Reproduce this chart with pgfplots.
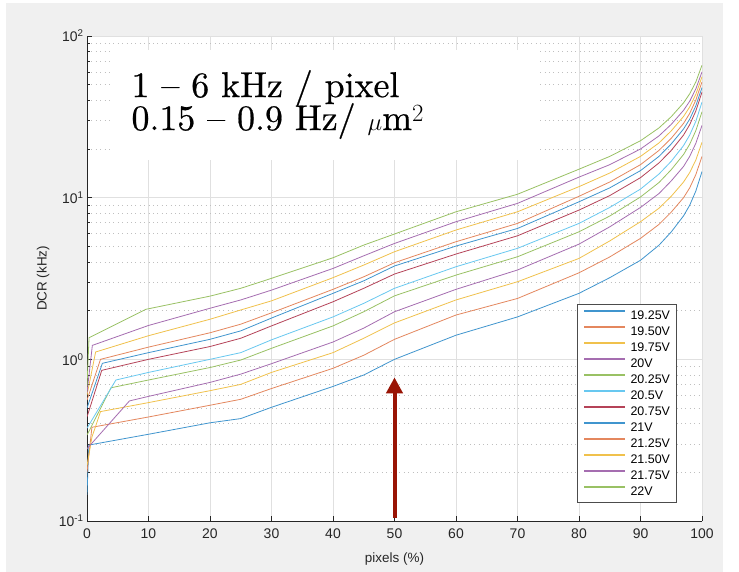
\documentclass[border=0pt]{standalone}
\usepackage{fontspec}
\usepackage{pgfplots}
\pgfplotsset{compat=1.18}
\usetikzlibrary{arrows.meta}
\newfontfamily\hv{Liberation Sans}
\newfontfamily\cmten{lmroman10-regular}[Extension=.otf, Ligatures=TeX, FakeBold=0.6]
\definecolor{mblue}{rgb}{0,0.447,0.741}
\definecolor{morange}{rgb}{0.85,0.325,0.098}
\definecolor{myellow}{rgb}{0.929,0.694,0.125}
\definecolor{mpurple}{rgb}{0.494,0.184,0.556}
\definecolor{mgreen}{rgb}{0.466,0.674,0.188}
\definecolor{mcyan}{rgb}{0.301,0.745,0.933}
\definecolor{mred}{rgb}{0.635,0.078,0.184}
\colorlet{cblue}{mblue!75!white}
\colorlet{corange}{morange!70!white}
\colorlet{cyellow}{myellow!80!white}
\colorlet{cpurple}{mpurple!70!white}
\colorlet{cgreen}{mgreen!75!white}
\colorlet{ccyan}{mcyan!85!white}
\colorlet{cred}{mred!80!white}
\definecolor{bggray}{HTML}{F0F0F0}
\definecolor{arrowred}{rgb}{0.6,0.08,0.02}
\begin{document}
\begin{tikzpicture}
\useasboundingbox (0,0) rectangle (739bp,572bp);
\fill[white] (0,0) rectangle (739bp,572bp);
\fill[bggray] (6bp,0) rectangle (723bp,569bp);
\begin{axis}[
  at={(87bp,51bp)}, anchor=south west,
  scale only axis, width=615bp, height=485bp,
  xmin=0, xmax=100, ymode=log, ymin=0.1, ymax=100,
  axis background/.style={fill=white},
  xtick={0,10,...,100},
  ytick={0.1,1,10,100},
  yticklabels={10\textsuperscript{-1},10\textsuperscript{0},10\textsuperscript{1},10\textsuperscript{2}},
  minor ytick={0.2,0.3,0.4,0.5,0.6,0.7,0.8,0.9,2,3,4,5,6,7,8,9,20,30,40,50,60,70,80,90},
  /pgf/number format/assume math mode=true,
  axis x line*=bottom, axis y line*=left,
  axis line style={-, draw=black!85, line width=0.8bp},
  tick align=inside,
  tick style={draw=black!85, line width=0.6bp},
  major tick length=5bp, minor tick length=3bp,
  xmajorgrids, ymajorgrids, yminorgrids,
  major grid style={draw=black!12, line width=0.8bp},
  minor grid style={draw=black!25, line width=0.6bp, dash pattern=on 0.8bp off 3.6bp},
  ticklabel style={font=\hv\fontsize{14}{16}\selectfont, text=black!85},
  xticklabel style={yshift=-4bp},
  label style={font=\hv\fontsize{13.5}{15}\selectfont, text=black!85},
  xlabel={pixels (\%)}, ylabel={DCR (kHz)},
  xlabel style={at={(axis description cs:0.5,-0.078)}, anchor=center},
  ylabel style={at={(axis description cs:-0.0715,0.5)}, anchor=center},
  legend style={at={(0.957724,0.447423)}, anchor=north east, draw=black!70, line width=0.8bp,
    fill=white, font=\hv\fontsize{12.5}{14}\selectfont, outer sep=0pt, inner xsep=6bp, inner ysep=3bp,
    nodes={inner sep=0pt, text height=12.5bp, text depth=3.5bp}, row sep=0pt},
  legend cell align=left,
  legend image code/.code={\draw[#1, line width=1.2bp] (0bp,4bp) -- (41bp,4bp); \path (46bp,0bp);},
  every axis plot/.append style={line width=0.8bp},
]
\fill[white] (axis cs:3.7,17.1) rectangle (axis cs:73.2,81.8);
\addplot[cblue] coordinates {(0,0.145) (0.3,0.295) (10,0.344) (20,0.405) (25,0.43) (30,0.505) (40,0.68) (45,0.80) (50,1.0) (60,1.41) (70,1.83) (80,2.56) (85,3.2) (90,4.1) (93,5.08) (95,6.14) (97,7.72) (98,8.98) (99,11.0) (100,14.5)};
\addlegendentry{19.25V}
\addplot[corange] coordinates {(0,0.20) (0.8,0.38) (10,0.44) (20,0.52) (25,0.566) (30,0.66) (40,0.88) (45,1.06) (50,1.33) (60,1.88) (70,2.38) (80,3.43) (85,4.3) (90,5.6) (93,6.83) (95,8.14) (97,10.0) (98,11.5) (99,13.9) (100,18)};
\addlegendentry{19.50V}
\addplot[cyellow] coordinates {(0,0.22) (0.8,0.33) (2.2,0.475) (10,0.54) (20,0.64) (25,0.70) (30,0.83) (40,1.10) (45,1.35) (50,1.68) (60,2.33) (70,3.02) (80,4.21) (85,5.4) (90,7.1) (93,8.6) (95,10.2) (97,12.5) (98,14.3) (99,17.1) (100,22)};
\addlegendentry{19.75V}
\addplot[cpurple] coordinates {(0,0.28) (6.9,0.553) (10,0.59) (20,0.72) (25,0.81) (30,0.94) (40,1.28) (45,1.56) (50,1.97) (60,2.71) (70,3.57) (80,5.16) (85,6.6) (90,8.7) (93,10.6) (95,12.7) (97,15.6) (98,18.0) (99,21.7) (100,28)};
\addlegendentry{20V}
\addplot[cgreen] coordinates {(0,0.34) (3.9,0.667) (10,0.745) (20,0.89) (25,0.99) (30,1.17) (40,1.61) (45,1.97) (50,2.47) (60,3.32) (70,4.31) (80,6.15) (85,7.7) (90,10.1) (93,12.4) (95,14.9) (97,18.5) (98,21.4) (99,26.0) (100,34)};
\addlegendentry{20.25V}
\addplot[ccyan] coordinates {(0,0.375) (4.7,0.745) (10,0.83) (20,1.0) (25,1.10) (30,1.32) (40,1.83) (45,2.22) (50,2.75) (60,3.74) (70,4.86) (80,6.93) (85,8.7) (90,11.3) (93,14.0) (95,16.8) (97,21.0) (98,24.4) (99,29.7) (100,39)};
\addlegendentry{20.5V}
\addplot[cred] coordinates {(0,0.44) (2.4,0.855) (10,1.0) (20,1.20) (25,1.35) (30,1.61) (40,2.27) (45,2.75) (50,3.37) (60,4.48) (70,5.81) (80,8.38) (85,10.3) (90,13.3) (93,16.4) (95,19.6) (97,24.4) (98,28.3) (99,34.4) (100,45)};
\addlegendentry{20.75V}
\addplot[cblue] coordinates {(0,0.50) (2.5,0.945) (10,1.10) (20,1.33) (25,1.50) (30,1.80) (40,2.56) (45,3.06) (50,3.78) (60,5.02) (70,6.45) (80,9.43) (85,11.5) (90,14.7) (93,18.0) (95,21.5) (97,26.6) (98,30.6) (99,37.0) (100,48)};
\addlegendentry{21V}
\addplot[corange] coordinates {(0,0.56) (2.2,1.0) (10,1.19) (20,1.46) (25,1.65) (30,1.94) (40,2.71) (45,3.24) (50,3.96) (60,5.34) (70,6.93) (80,10.2) (85,12.5) (90,16) (93,19.6) (95,23.3) (97,28.8) (98,33.2) (99,40.2) (100,52)};
\addlegendentry{21.25V}
\addplot[cyellow] coordinates {(0,0.60) (1.4,1.11) (10,1.40) (20,1.77) (25,2.02) (30,2.30) (40,3.20) (45,3.83) (50,4.63) (60,6.31) (70,8.18) (80,11.7) (85,14.2) (90,18) (93,21.8) (95,25.9) (97,31.8) (98,36.4) (99,43.6) (100,56)};
\addlegendentry{21.50V}
\addplot[cpurple] coordinates {(0,0.62) (0.87,1.22) (10,1.62) (20,2.07) (25,2.33) (30,2.68) (40,3.65) (45,4.37) (50,5.21) (60,7.10) (70,9.22) (80,13.4) (85,16) (90,20) (93,24.1) (95,28.4) (97,34.7) (98,39.5) (99,47.1) (100,60)};
\addlegendentry{21.75V}
\addplot[cgreen] coordinates {(0,0.68) (0.33,1.36) (9.6,2.04) (20,2.46) (25,2.75) (30,3.17) (40,4.25) (45,5.09) (50,5.96) (60,8.18) (70,10.5) (80,15.0) (85,18) (90,22.5) (93,27) (95,31.7) (97,38.6) (98,43.9) (99,52) (100,66)};
\addlegendentry{22V}
\node[anchor=base west, font=\cmten\fontsize{36}{40}\selectfont] at (axis cs:6.67,41.9) {1 \textendash{} 6 kHz / pixel};
\node[anchor=base west, font=\cmten\fontsize{36}{40}\selectfont] at (axis cs:6.67,26.2) {0.15 \textendash{} 0.9 Hz/ $\mu$m$^2$};
\draw[arrowred, line width=4bp, -{Triangle[width=16bp,length=16bp]}] (axis cs:50,0.1044) -- (axis cs:50,0.774);
\end{axis}
\end{tikzpicture}
\end{document}
